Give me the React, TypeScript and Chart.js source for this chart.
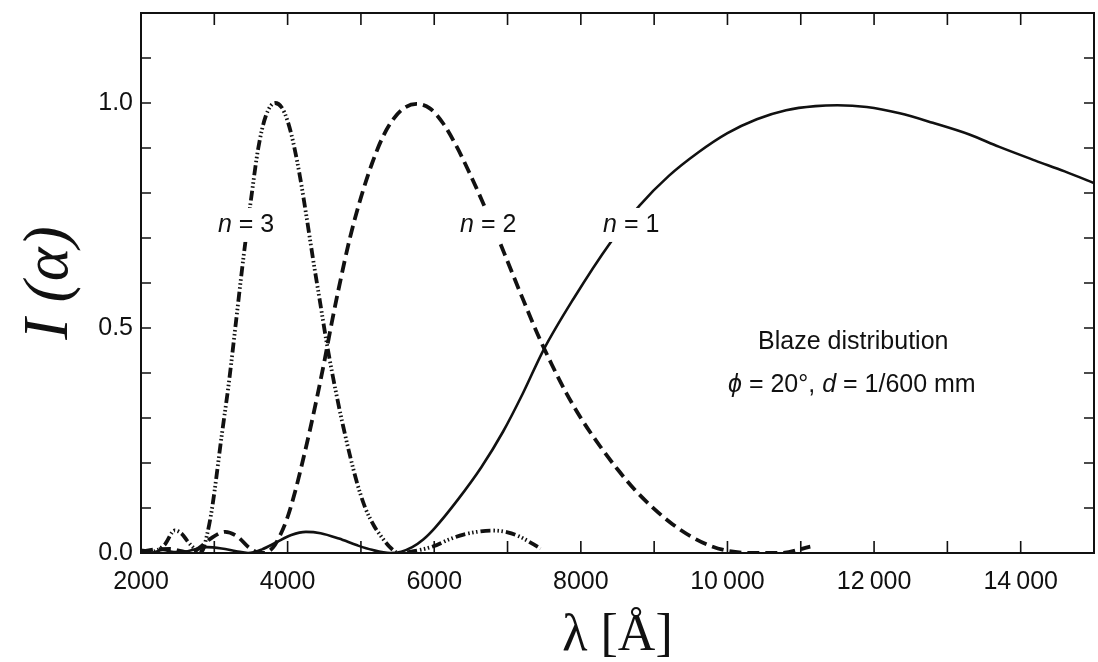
import { useEffect, useRef } from "react";
import { Chart, registerables } from "chart.js";

Chart.register(...registerables);

// First-order blaze curve (solid)
const order1Wavelength = [
  2000, 2150, 2300, 2450, 2600, 2750, 2900, 3100, 3300, 3460, 3650, 3850, 4050, 4250, 4450, 4700,
  4950, 5150, 5400, 5550, 5700, 5850, 6010, 6320, 6640, 6940, 7210, 7490, 7900, 8400, 8800, 9200,
  9600, 10000, 10400, 10800, 11200, 11500, 11900, 12350, 12800, 13300, 13700, 14200, 14600, 15000,
];
const order1Intensity = [
  0.004, 0.001, 0.007, 0.002, 0.003, 0.009, 0.013, 0.01, 0.004, 0.0, 0.008, 0.024, 0.04, 0.047, 0.044, 0.032,
  0.017, 0.007, 0.0, 0.003, 0.013, 0.03, 0.056, 0.118, 0.19, 0.27, 0.355, 0.451, 0.565, 0.689, 0.772, 0.838,
  0.89, 0.933, 0.964, 0.984, 0.993, 0.995, 0.991, 0.977, 0.956, 0.93, 0.903, 0.872, 0.848, 0.822,
];

// Second-order blaze curve (dashed)
const order2Wavelength = [
  2000, 2200, 2400, 2550, 2680, 2800, 2950, 3150, 3320, 3460, 3580, 3680, 3800, 3900, 4000, 4100,
  4200, 4300, 4400, 4500, 4600, 4700, 4850, 5000, 5150, 5300, 5450, 5600, 5760, 5940, 6120, 6300,
  6480, 6660, 6840, 7020, 7200, 7400, 7600, 7800, 8000, 8250, 8500, 8750, 9000, 9250, 9500, 9750,
  10000, 10350, 10720, 11130,
];
const order2Intensity = [
  0.003, 0.008, 0.009, 0.004, 0.0, 0.012, 0.032, 0.047, 0.036, 0.014, 0.002, 0.0, 0.012, 0.04, 0.08, 0.135,
  0.2, 0.27, 0.345, 0.425, 0.51, 0.59, 0.7, 0.79, 0.865, 0.925, 0.966, 0.99, 0.998, 0.988, 0.955, 0.905,
  0.845, 0.78, 0.712, 0.64, 0.568, 0.49, 0.42, 0.356, 0.3, 0.24, 0.186, 0.138, 0.098, 0.064, 0.037, 0.017,
  0.005, 0.0, 0.0, 0.014,
];

// Third-order blaze curve (dash-dot-dot-dot)
const order3Wavelength = [
  2000, 2150, 2320, 2460, 2560, 2640, 2730, 2830, 2900, 2970, 3100, 3200, 3300, 3400, 3500, 3600,
  3700, 3830, 3920, 4000, 4080, 4170, 4260, 4350, 4440, 4530, 4620, 4760, 4940, 5060, 5180, 5280,
  5415, 5520, 5720, 5990, 6200, 6400, 6800, 7000, 7170, 7450,
];
const order3Intensity = [
  0.006, 0.003, 0.018, 0.05, 0.042, 0.025, 0.01, 0.004, 0.04, 0.1, 0.26, 0.38, 0.52, 0.66, 0.785, 0.9,
  0.97, 1.0, 0.99, 0.96, 0.91, 0.835, 0.745, 0.65, 0.56, 0.47, 0.39, 0.28, 0.16, 0.1, 0.06, 0.036,
  0.01, 0.0, 0.004, 0.015, 0.03, 0.041, 0.05, 0.046, 0.036, 0.01,
];

const xLabelledTicks = [2000, 4000, 6000, 8000, 10000, 12000, 14000];
const yLabelledTicks = [0, 0.5, 1.0];

const SANS = "'Liberation Sans', Arial, Helvetica, sans-serif";
const SERIF = "'Liberation Serif', 'Times New Roman', serif";
const INK = "#111";

type Segment = [string, "italic" | "normal"];
type Note = { x: number; y: number; parts: Segment[]; knockout?: boolean };

// Text notes placed in data coordinates (wavelength, intensity)
const notes: Note[] = [
  { x: 3050, y: 0.729, parts: [["n", "italic"], [" = 3", "normal"]], knockout: true },
  { x: 6352, y: 0.729, parts: [["n", "italic"], [" = 2", "normal"]], knockout: true },
  { x: 8303, y: 0.729, parts: [["n", "italic"], [" = 1", "normal"]], knockout: true },
  { x: 10418, y: 0.469, parts: [["Blaze distribution", "normal"]] },
  {
    x: 10008,
    y: 0.373,
    parts: [
      ["\u03d5", "italic"],
      [" = 20\u00b0, ", "normal"],
      ["d", "italic"],
      [" = 1/600 mm", "normal"],
    ],
  },
];

const zip = (xs: number[], ys: number[]) => xs.map((x, i) => ({ x, y: ys[i] }));

const formatWavelength = (v: number) => {
  const s = String(v);
  return s.length > 4 ? s.slice(0, -3) + "\u2009" + s.slice(-3) : s;
};

// Closed frame with inward-pointing ticks on all four sides
const framePlugin = {
  id: "frameTicks",
  afterDatasetsDraw(chart: any) {
    const { ctx, chartArea: a, scales } = chart;
    const xs = scales.x;
    const ys = scales.y;
    ctx.save();
    ctx.strokeStyle = INK;
    ctx.lineWidth = 1.6;
    ctx.beginPath();
    for (const t of xs.ticks) {
      const p = xs.getPixelForValue(t.value);
      if (p <= a.left + 1 || p >= a.right - 1) continue;
      ctx.moveTo(p, a.bottom);
      ctx.lineTo(p, a.bottom - 12);
      ctx.moveTo(p, a.top);
      ctx.lineTo(p, a.top + 12);
    }
    for (const t of ys.ticks) {
      const p = ys.getPixelForValue(t.value);
      if (p >= a.bottom - 1 || p <= a.top + 1) continue;
      ctx.moveTo(a.left, p);
      ctx.lineTo(a.left + 10, p);
      ctx.moveTo(a.right, p);
      ctx.lineTo(a.right - 10, p);
    }
    ctx.stroke();
    ctx.lineWidth = 2;
    ctx.strokeRect(a.left, a.top, a.right - a.left, a.bottom - a.top);
    ctx.restore();
  },
};

const notesPlugin = {
  id: "notes",
  afterDraw(chart: any) {
    const { ctx, scales } = chart;
    ctx.save();
    ctx.textBaseline = "middle";
    ctx.textAlign = "left";
    for (const n of notes) {
      const x0 = scales.x.getPixelForValue(n.x);
      const py = scales.y.getPixelForValue(n.y);
      let w = 0;
      for (const [text, style] of n.parts) {
        ctx.font = `${style} 25px ${SANS}`;
        w += ctx.measureText(text).width;
      }
      if (n.knockout) {
        ctx.fillStyle = "#fff";
        ctx.fillRect(x0 - 3, py - 17, w + 6, 34);
      }
      ctx.fillStyle = INK;
      let px = x0;
      for (const [text, style] of n.parts) {
        ctx.font = `${style} 25px ${SANS}`;
        ctx.fillText(text, px, py);
        px += ctx.measureText(text).width;
      }
    }
    ctx.restore();
  },
};

const dropScalePadding = (s: any) => {
  s.paddingTop = 0;
  s.paddingBottom = 0;
  s.paddingLeft = 0;
  s.paddingRight = 0;
};

export default function App() {
  const canvasRef = useRef<HTMLCanvasElement | null>(null);

  useEffect(() => {
    if (!canvasRef.current) return;
    const curve = {
      borderColor: INK,
      pointRadius: 0,
      cubicInterpolationMode: "monotone" as const,
      fill: false,
    };
    const chart = new Chart(canvasRef.current, {
      type: "line",
      data: {
        datasets: [
          {
            ...curve,
            label: "n = 1",
            data: zip(order1Wavelength, order1Intensity),
            borderWidth: 2.6,
          },
          {
            ...curve,
            label: "n = 2",
            data: zip(order2Wavelength, order2Intensity),
            borderWidth: 3.8,
            borderDash: [12, 6],
          },
          {
            ...curve,
            label: "n = 3",
            data: zip(order3Wavelength, order3Intensity),
            borderWidth: 3.8,
            borderDash: [10, 3, 1.5, 2.5, 1.5, 2.5, 1.5, 3],
          },
        ],
      },
      options: {
        animation: false,
        responsive: false,
        devicePixelRatio: 1,
        layout: { padding: { top: 13, right: 4, left: 0, bottom: 0 } },
        plugins: {
          legend: { display: false },
          tooltip: { enabled: false },
        },
        scales: {
          x: {
            type: "linear",
            min: 2000,
            max: 15000,
            grid: { display: false, drawTicks: false },
            border: { display: false },
            afterFit: (s: any) => {
              s.height = 109;
              dropScalePadding(s);
            },
            ticks: {
              stepSize: 1000,
              autoSkip: false,
              maxRotation: 0,
              padding: 14,
              color: INK,
              font: { family: SANS, size: 25 },
              callback: (v: any) =>
                xLabelledTicks.includes(Number(v)) ? formatWavelength(Number(v)) : "",
            },
            title: {
              display: true,
              text: "\u03bb [\u00c5]",
              color: INK,
              font: { family: SERIF, size: 52, lineHeight: 1 },
              padding: { top: 0, bottom: 0 },
            },
          },
          y: {
            type: "linear",
            min: 0,
            max: 1.2,
            grid: { display: false, drawTicks: false },
            border: { display: false },
            afterFit: (s: any) => {
              s.width = 141;
              dropScalePadding(s);
            },
            ticks: {
              stepSize: 0.1,
              autoSkip: false,
              padding: 8,
              color: INK,
              font: { family: SANS, size: 25 },
              callback: (v: any) => {
                const n = Number(v);
                return yLabelledTicks.some((t) => Math.abs(t - n) < 1e-6) ? n.toFixed(1) : "";
              },
            },
            title: {
              display: true,
              text: "I (\u03b1)",
              color: INK,
              font: { family: SERIF, size: 64, style: "italic", lineHeight: 1 },
              padding: { top: 18, bottom: 0 },
            },
          },
        },
      },
      plugins: [framePlugin, notesPlugin],
    });
    return () => chart.destroy();
  }, []);

  return (
    <div style={{ position: "fixed", left: 0, top: 0, width: 1098, height: 662, background: "#fff" }}>
      <canvas ref={canvasRef} width={1098} height={662} style={{ display: "block" }} />
    </div>
  );
}
